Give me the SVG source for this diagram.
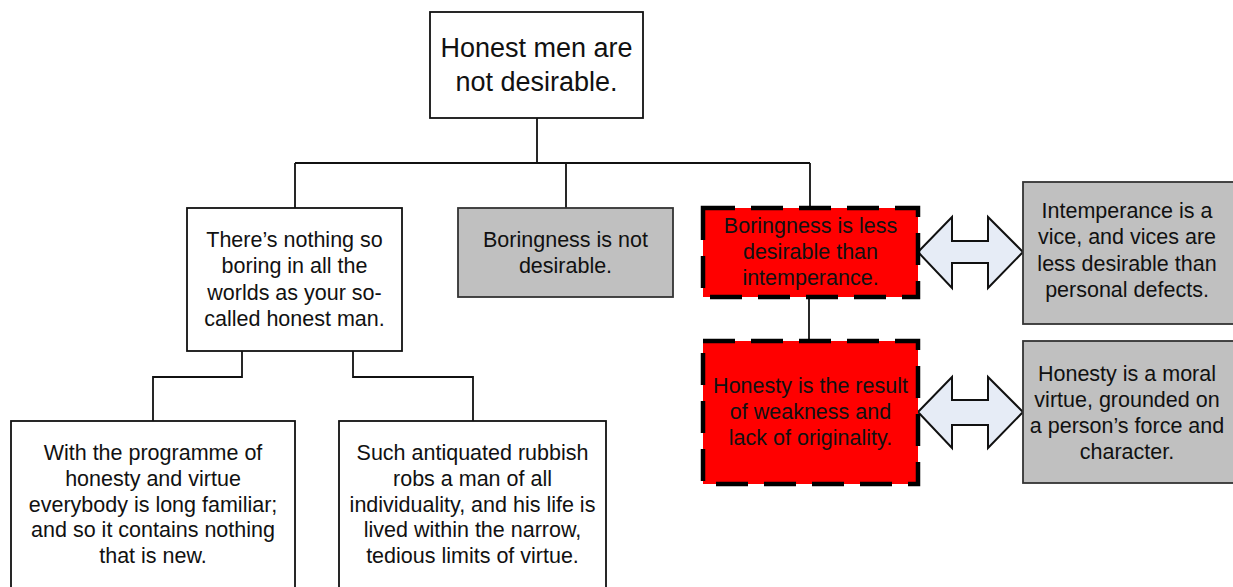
<svg xmlns="http://www.w3.org/2000/svg" width="1233" height="587" viewBox="0 0 1233 587">
<style>
text{font-family:"Liberation Sans",Arial,sans-serif;font-size:21.5px;fill:#111;text-anchor:middle}
.big{font-size:27px}
.w{fill:#fff;stroke:#111;stroke-width:1.8}
.g{fill:#c0c0c0;stroke:#333;stroke-width:1.8}
.r{fill:#ff0000;stroke:#000;stroke-width:4.5;stroke-dasharray:32 16}
.c{fill:none;stroke:#111;stroke-width:1.8}
.dbl{fill:#e6ecf6;stroke:#111;stroke-width:2;stroke-linejoin:miter}
</style>
<rect width="1233" height="587" fill="#fff"/>
<g id="connectors">
<path class="c" d="M537 118V163M295 163H810M295 163V208M566 163V208M810 163V208"/>
<path class="c" d="M809 297V341"/>
<path class="c" d="M242 351V377H153V421M353 351V377H473V421"/>
<path id="arrow1" class="dbl" d="M918 252L952 217V241H988V217L1023 252L988 288V263H952V288Z"/>
<path id="arrow2" class="dbl" d="M918 412L952 377V400H988V377L1023 412L988 448V425H952V448Z"/>
</g>
<g id="n-root">
<rect class="w" x="430" y="12" width="213" height="106"/>
<text class="big" x="536.5" y="57">Honest men are</text>
<text class="big" x="536.5" y="91">not desirable.</text>
</g>
<g id="n-boring-world">
<rect class="w" x="187" y="208" width="215" height="143"/>
<text x="294.5" y="247">There’s nothing so</text>
<text x="294.5" y="273">boring in all the</text>
<text x="294.5" y="300">worlds as your so-</text>
<text x="294.5" y="326">called honest man.</text>
</g>
<g id="n-boringness">
<rect class="g" x="458" y="208" width="215" height="89"/>
<text x="565.5" y="247">Boringness is not</text>
<text x="565.5" y="273">desirable.</text>
</g>
<g id="n-less-desirable">
<rect class="r" x="703" y="208" width="215" height="89"/>
<text x="810.5" y="233">Boringness is less</text>
<text x="810.5" y="259">desirable than</text>
<text x="810.5" y="285">intemperance.</text>
</g>
<g id="n-weakness">
<rect class="r" x="703" y="341" width="215" height="143"/>
<text x="810.5" y="393">Honesty is the result</text>
<text x="810.5" y="419">of weakness and</text>
<text x="810.5" y="445">lack of originality.</text>
</g>
<g id="n-intemperance">
<rect class="g" x="1023" y="182" width="212" height="142"/>
<text x="1127" y="218">Intemperance is a</text>
<text x="1127" y="244">vice, and vices are</text>
<text x="1127" y="271">less desirable than</text>
<text x="1127" y="297">personal defects.</text>
</g>
<g id="n-moral-virtue">
<rect class="g" x="1023" y="341" width="212" height="142"/>
<text x="1127" y="381">Honesty is a moral</text>
<text x="1127" y="407">virtue, grounded on</text>
<text x="1127" y="433">a person’s force and</text>
<text x="1127" y="459">character.</text>
</g>
<g id="n-programme">
<rect class="w" x="11" y="421" width="284" height="180"/>
<text x="153" y="460">With the programme of</text>
<text x="153" y="486">honesty and virtue</text>
<text x="153" y="512">everybody is long familiar;</text>
<text x="153" y="537">and so it contains nothing</text>
<text x="153" y="563">that is new.</text>
</g>
<g id="n-rubbish">
<rect class="w" x="339" y="421" width="267" height="180"/>
<text x="472.5" y="460">Such antiquated rubbish</text>
<text x="472.5" y="486">robs a man of all</text>
<text x="472.5" y="512">individuality, and his life is</text>
<text x="472.5" y="537">lived within the narrow,</text>
<text x="472.5" y="563">tedious limits of virtue.</text>
</g>
</svg>
